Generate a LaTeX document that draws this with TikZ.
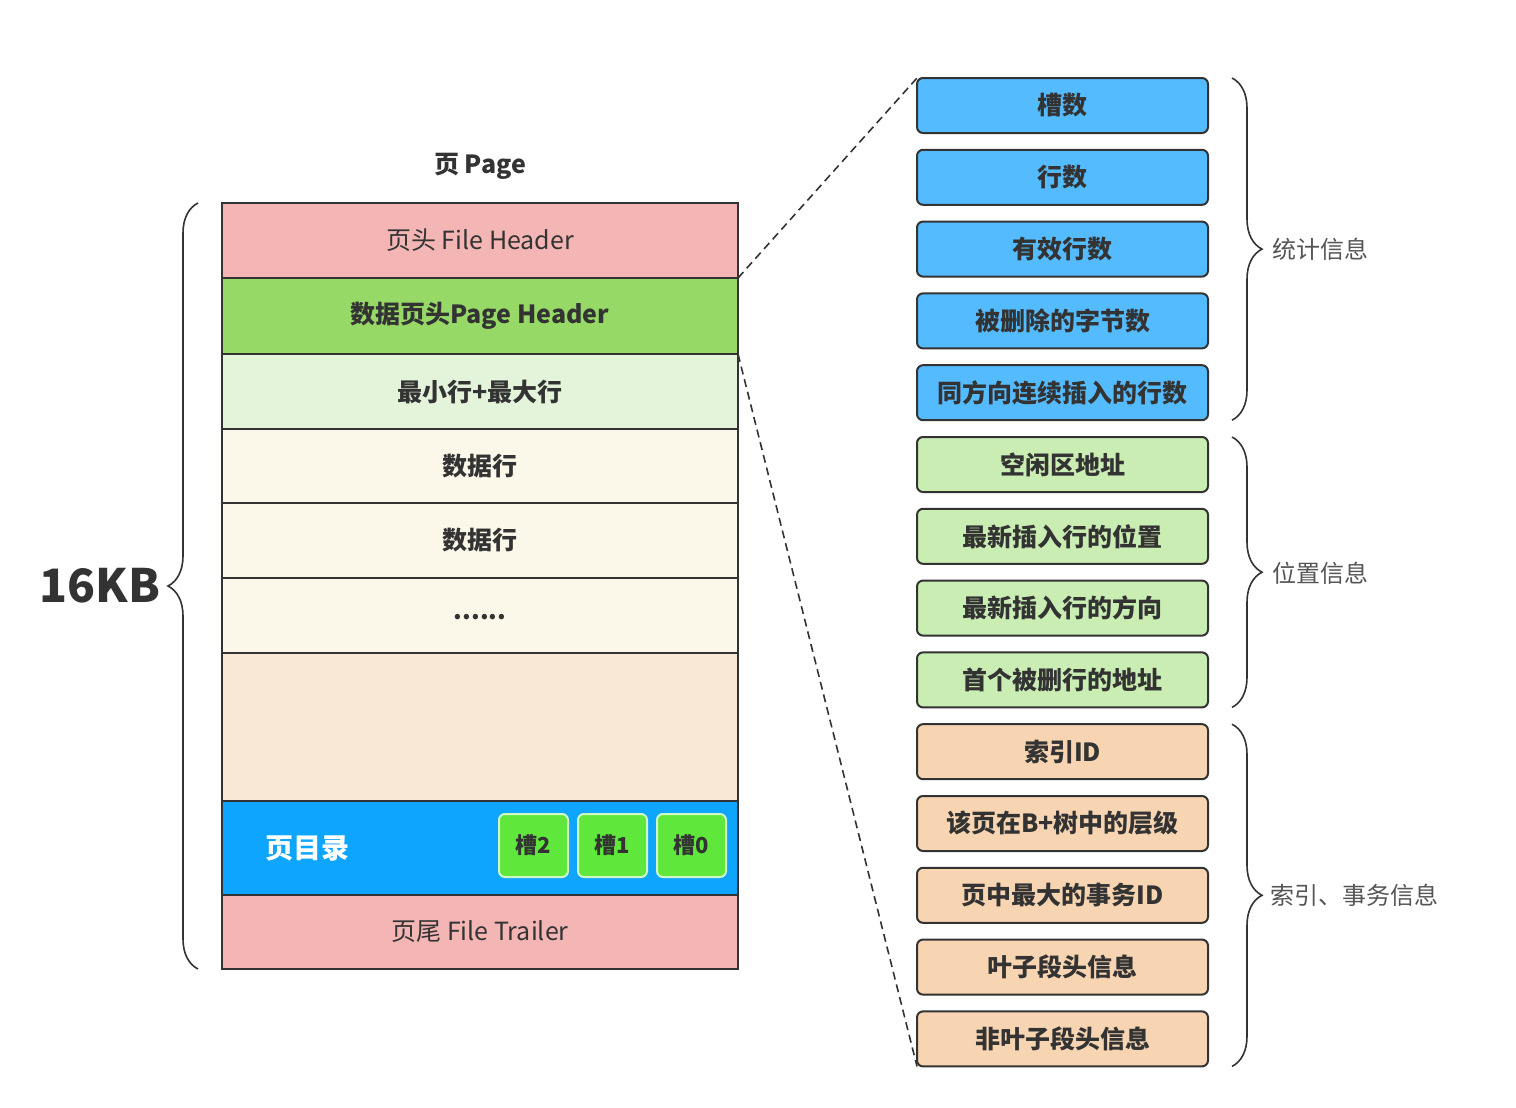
\documentclass[tikz,border=0pt]{standalone}
\usepackage{fontspec}
\setmainfont{Noto Sans CJK SC}
\usepackage{xcolor}
\usepackage{tikz}
\usetikzlibrary{positioning,calc,decorations.pathreplacing}

\definecolor{txt}{HTML}{333333}
\definecolor{lbl}{HTML}{555555}
\definecolor{filehdr}{HTML}{F4B6B5}
\definecolor{pagehdr}{HTML}{96D967}
\definecolor{minmax}{HTML}{E3F4DA}
\definecolor{datarow}{HTML}{FBF8EA}
\definecolor{freesp}{HTML}{FAE8D7}
\definecolor{dirblue}{HTML}{0EA5FF}
\definecolor{slotgreen}{HTML}{5FE83B}
\definecolor{statblue}{HTML}{55BBFF}
\definecolor{placegreen}{HTML}{C9EDB3}
\definecolor{idxorange}{HTML}{F8D5B2}

\begin{document}
\begin{tikzpicture}[x=0.5pt, y=-0.5pt,
  row/.style={draw=txt, line width=1pt, rectangle, minimum width=258pt, minimum height=37.5pt, inner sep=0pt, outer sep=0pt, text=txt, font=\fontsize{12.5}{15}\selectfont},
  rowb/.style={row, font=\fontsize{12.5}{15}\selectfont\bfseries},
  slot/.style={draw=white!70!slotgreen, line width=1pt, fill=slotgreen, rounded corners=3pt, minimum width=34.5pt, minimum height=31.5pt, inner sep=0pt, outer sep=0pt, text=txt, font=\fontsize{11}{13}\selectfont\bfseries},
  field/.style={draw=txt, line width=1pt, rounded corners=3pt, minimum width=145.5pt, minimum height=27.5pt, inner sep=0pt, outer sep=0pt, text=txt, font=\fontsize{12.5}{15}\selectfont\bfseries},
  fstat/.style={field, fill=statblue},
  fplace/.style={field, fill=placegreen},
  findex/.style={field, fill=idxorange},
  grpbrace/.style={decorate, decoration={brace, amplitude=15pt}, draw=txt, line width=0.8pt},
  grplabel/.style={anchor=west, text=lbl, font=\fontsize{12}{14}\selectfont},
  zoomline/.style={draw=txt, dash pattern=on 4pt off 2.5pt, line width=0.8pt}
]
\useasboundingbox (0,0) rectangle (1516,1108);

\node[text=txt, font=\fontsize{12.5}{15}\selectfont\bfseries] (title) at (480,166) {页 Page};
\node[row, fill=filehdr] (fhdr) at (480,240.5) {页头 File Header};
\node[rowb, fill=pagehdr, minimum height=38pt, below=0pt of fhdr] (phdr) {数据页头Page Header};
\node[rowb, fill=minmax, below=0pt of phdr] (minmax) {最小行+最大行};
\node[rowb, fill=datarow, minimum height=37pt, below=0pt of minmax] (data1) {数据行};
\node[rowb, fill=datarow, below=0pt of data1] (data2) {数据行};
\node[rowb, fill=datarow, text height=4pt, text depth=0pt, below=0pt of data2] (dots) {......};
\node[row, fill=freesp, minimum height=74pt, below=0pt of dots] (free) {};
\node[row, fill=dirblue, minimum height=47pt, below=0pt of free] (pdir) {};
\node[row, fill=filehdr, minimum height=37pt, below=0pt of pdir] (ftrl) {页尾 File Trailer};

\node[text=white, font=\fontsize{14}{17}\selectfont\bfseries] (dirlabel) at ($(pdir.west)+(85,0)$) {页目录};
\node[slot, left=6pt of pdir.east, yshift=1.25pt] (slot0) {槽0};
\node[slot, left=5pt of slot0] (slot1) {槽1};
\node[slot, left=5pt of slot1] (slot2) {槽2};

\draw[grpbrace] ($(ftrl.south west)+(-24,0)$) -- ($(fhdr.north west)+(-24,0)$);
\node[text=txt, font=\fontsize{23}{27}\selectfont\bfseries] (size) at ($(fhdr.north west)!0.5!(ftrl.south west)+(-122,0)$) {16KB};

\node[fstat] (s1) at (1062.5,105.5) {槽数};
\node[fstat, below=8.4pt of s1] (s2) {行数};
\node[fstat, below=8.4pt of s2] (s3) {有效行数};
\node[fstat, below=8.4pt of s3] (s4) {被删除的字节数};
\node[fstat, below=8.4pt of s4] (s5) {同方向连续插入的行数};
\node[fplace, below=8.4pt of s5] (s6) {空闲区地址};
\node[fplace, below=8.4pt of s6] (s7) {最新插入行的位置};
\node[fplace, below=8.4pt of s7] (s8) {最新插入行的方向};
\node[fplace, below=8.4pt of s8] (s9) {首个被删行的地址};
\node[findex, below=8.4pt of s9] (s10) {索引ID};
\node[findex, below=8.4pt of s10] (s11) {该页在B+树中的层级};
\node[findex, below=8.4pt of s11] (s12) {页中最大的事务ID};
\node[findex, below=8.4pt of s12] (s13) {叶子段头信息};
\node[findex, below=8.4pt of s13] (s14) {非叶子段头信息};

\draw[grpbrace] ($(s1.north east)+(24,0)$) -- ($(s5.south east)+(24,0)$);
\draw[grpbrace] ($(s6.north east)+(24,0)$) -- ($(s9.south east)+(24,0)$);
\draw[grpbrace] ($(s10.north east)+(24,0)$) -- ($(s14.south east)+(24,0)$);
\node[grplabel] (lstat) at ($(s1.north east)!0.5!(s5.south east)+(57,0)$) {统计信息};
\node[grplabel] (lplace) at ($(s6.north east)!0.5!(s9.south east)+(57,1)$) {位置信息};
\node[grplabel] (lindex) at ($(s10.north east)!0.5!(s14.south east)+(55,0)$) {索引、事务信息};

\draw[zoomline] (phdr.north east) -- (s1.north west);
\draw[zoomline] (phdr.south east) -- (s14.south west);
\end{tikzpicture}
\end{document}
